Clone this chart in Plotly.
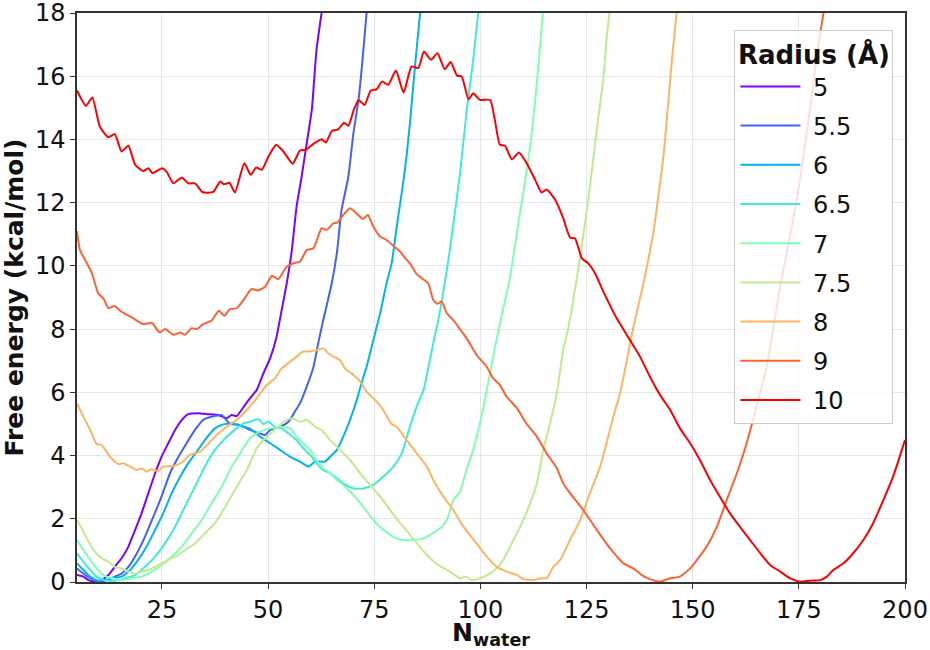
import plotly.graph_objects as go

radius_labels = ["5", "5.5", "6", "6.5", "7", "7.5", "8", "9", "10"]

x_r5 = [5.0,6.5,7.7,9.2,10.8,12.4,13.9,15.5,17.1,18.7,20.2,21.8,23.4,24.9,26.5,28.1,29.7,31.2,33.6,35.9,38.3,40.2,41.4,42.6,44.2,45.7,47.3,48.9,50.5,52.0,53.2,54.4,55.6,56.7,57.9,59.1,60.3,61.4,62.6]
y_r5 = [0.22,0.17,0.06,0.01,0.06,0.22,0.48,0.75,1.12,1.65,2.17,2.81,3.44,3.96,4.39,4.81,5.13,5.31,5.34,5.31,5.28,5.18,5.28,5.25,5.53,5.81,6.07,6.6,7.08,7.76,8.6,9.45,10.5,11.87,12.82,13.88,14.94,16.83,18.0]

x_r55 = [5.0,6.5,8.1,10.0,12.0,13.9,15.5,17.1,19.1,21.0,23.0,24.9,26.9,28.9,30.8,32.8,34.7,36.7,39.1,41.0,43.4,45.7,48.1,49.3,50.5,52.8,54.8,56.3,57.5,59.1,60.7,61.8,63.0,65.0,66.2,67.3,68.9,70.1,71.3,72.1,73.2]
y_r55 = [0.43,0.27,0.12,0.01,0.06,0.17,0.27,0.48,0.91,1.43,2.07,2.7,3.44,3.96,4.39,4.81,5.13,5.23,5.28,5.0,4.97,4.81,4.7,4.65,4.81,4.91,5.07,5.39,5.65,6.18,6.81,7.55,8.29,9.45,10.4,11.77,12.82,14.2,15.25,16.31,18.0]

x_r6 = [5.0,6.5,8.1,9.6,11.6,13.6,15.5,17.5,19.4,21.4,23.4,25.3,27.3,29.3,31.2,33.2,35.1,37.5,39.1,41.4,43.4,45.7,48.1,50.5,52.8,55.2,57.5,59.5,61.1,63.4,64.6,66.2,67.7,69.3,70.9,72.0,73.2,74.4,75.6,76.4,77.9,79.1,80.3,81.8,82.6,83.4,84.6,85.8]
y_r6 = [0.59,0.38,0.17,0.06,0.06,0.12,0.17,0.38,0.7,1.12,1.65,2.17,2.81,3.33,3.76,4.12,4.49,4.86,4.97,5.02,4.94,4.86,4.6,4.39,4.18,3.96,3.81,3.65,3.81,3.81,3.96,4.18,4.6,5.13,5.76,6.29,6.81,7.44,8.08,8.5,9.45,10.08,11.24,12.61,13.46,14.51,16.31,18.0]

x_r65 = [5.0,6.5,8.1,9.6,11.6,13.9,16.3,18.7,21.0,23.4,25.7,28.1,30.4,32.8,35.1,37.5,39.9,42.6,44.2,45.7,47.7,48.9,50.1,51.6,53.2,54.8,56.7,58.3,59.9,61.4,63.0,64.6,66.2,67.7,70.1,72.4,74.8,77.1,79.5,81.5,83.4,85.0,86.6,87.8,88.9,90.1,92.8,95.2,96.8,98.3,99.5]
y_r65 = [0.91,0.64,0.38,0.17,0.06,0.03,0.12,0.22,0.48,0.8,1.22,1.75,2.38,3.02,3.65,4.18,4.55,4.86,5.02,5.07,5.15,5.0,5.07,4.91,4.86,4.7,4.49,4.23,4.02,3.76,3.54,3.44,3.28,3.12,2.96,2.96,3.07,3.33,3.65,4.07,4.91,5.55,6.07,6.81,7.55,8.29,10.5,12.93,14.94,16.51,18.0]

x_r7 = [5.0,6.5,8.1,9.6,11.2,13.2,15.5,17.9,20.2,22.6,24.9,27.3,29.7,32.0,34.4,36.7,39.1,41.4,43.4,45.7,48.1,50.5,52.8,55.2,56.7,58.3,59.9,61.4,63.0,64.6,66.2,67.7,70.1,72.4,74.8,77.1,79.5,81.8,84.2,86.6,88.1,90.5,92.1,93.6,95.2,96.7,98.3,99.9,101.5,103.0,104.6,107.0,109.3,111.3,113.3,114.1,114.7]
y_r7 = [1.33,1.01,0.7,0.43,0.22,0.12,0.06,0.12,0.17,0.33,0.54,0.8,1.12,1.54,1.96,2.49,3.02,3.65,4.07,4.55,4.76,4.86,4.91,4.86,4.6,4.39,4.18,3.86,3.6,3.44,3.23,3.07,2.75,2.38,1.96,1.65,1.43,1.33,1.33,1.38,1.49,1.7,1.96,2.59,2.86,3.54,4.18,5.02,6.07,7.13,8.18,9.66,11.66,13.35,15.78,17.04,18.0]

x_r75 = [5.0,6.1,7.7,9.2,10.8,12.4,13.9,15.5,17.1,18.7,20.2,21.8,23.4,24.9,26.5,28.1,30.4,32.8,35.1,37.5,39.9,42.2,43.8,45.0,47.3,48.9,50.5,52.0,53.6,55.6,57.5,59.1,61.1,62.6,64.6,66.9,69.3,71.7,74.0,76.4,78.7,81.1,83.4,85.8,88.1,90.5,92.8,95.2,96.7,97.9,99.9,102.3,103.8,105.4,107.0,108.6,110.1,111.7,113.3,114.8,116.4,118.0,119.5,120.7,123.5,125.4,127.4,129.0,129.7,130.4]
y_r75 = [1.96,1.7,1.28,0.96,0.75,0.64,0.48,0.43,0.33,0.27,0.33,0.38,0.48,0.59,0.7,0.8,1.01,1.22,1.54,1.86,2.38,2.91,3.28,3.54,4.23,4.49,4.7,4.86,5.07,5.18,5.07,5.13,4.91,4.81,4.49,4.18,3.86,3.44,3.07,2.7,2.28,1.86,1.5,1.1,0.75,0.5,0.33,0.12,0.17,0.06,0.12,0.27,0.43,0.7,1.12,1.54,1.96,2.49,3.12,4.18,5.02,5.97,7.34,8.03,10.29,12.09,14.3,15.99,17.15,18.0]

x_r8 = [5.0,6.5,8.1,9.6,10.8,12.8,14.7,15.9,17.5,19.1,20.2,21.4,22.6,24.1,25.3,27.7,29.7,31.6,34.0,35.9,37.9,40.2,42.6,45.0,47.3,49.7,51.6,53.2,55.2,56.7,58.3,59.9,61.4,63.0,64.2,65.4,66.9,68.1,70.1,71.7,73.2,75.2,77.1,79.1,80.3,82.6,85.0,87.4,88.9,91.3,93.6,96.0,99.1,101.5,103.8,106.2,108.6,110.1,112.5,114.4,115.6,117.2,118.8,121.1,123.5,125.8,128.2,129.7,131.3,132.9,134.5,136.0,138.4,140.7,143.1,144.3,145.1,146.2]
y_r8 = [5.65,5.23,4.81,4.37,4.33,3.96,3.73,3.76,3.65,3.54,3.6,3.49,3.57,3.51,3.65,3.67,3.78,4.02,4.12,4.37,4.65,4.91,5.13,5.44,5.81,6.23,6.44,6.76,6.97,7.13,7.29,7.29,7.34,7.39,7.23,7.13,7.02,6.76,6.55,6.34,6.02,5.76,5.44,5.0,4.91,4.49,4.07,3.65,3.23,2.7,2.28,1.75,1.22,0.8,0.48,0.33,0.22,0.09,0.06,0.12,0.12,0.48,0.7,1.33,1.96,2.81,3.65,4.39,5.23,5.97,7.02,8.05,9.45,11.03,13.46,15.25,16.51,18.0]

x_r9 = [5.0,5.7,6.9,8.5,10.0,11.2,12.4,13.8,15.5,17.9,20.6,22.6,24.5,25.7,27.7,29.3,30.4,32.0,33.2,34.7,36.7,38.4,39.7,41.0,42.6,44.2,46.1,47.6,49.3,50.9,52.4,54.4,56.3,57.5,59.1,60.7,62.6,63.8,65.4,66.3,67.7,69.3,70.9,72.3,73.5,74.8,76.4,77.9,79.9,81.1,82.3,83.4,85.0,86.2,87.7,88.9,89.9,90.9,92.1,93.6,95.2,96.8,99.1,101.5,103.0,104.6,106.2,108.6,110.9,113.3,115.6,118.0,119.5,121.1,124.2,127.4,130.5,133.7,136.0,138.0,139.9,142.3,144.7,147.0,149.4,151.0,153.3,155.7,158.0,160.4,162.7,167.4,170.6,174.5,177.6,179.2,180.8]
y_r9 = [11.1,10.5,10.19,9.77,9.13,8.97,8.66,8.73,8.55,8.37,8.16,8.2,7.89,8.0,7.82,7.89,7.82,8.03,8.0,8.16,8.27,8.58,8.42,8.63,8.66,8.92,9.27,9.22,9.34,9.69,9.58,9.98,10.1,10.13,10.5,10.56,11.19,11.14,11.35,11.37,11.61,11.82,11.65,11.48,11.61,11.24,10.93,10.82,10.59,10.45,10.24,10.08,9.74,9.61,9.45,8.92,8.8,8.87,8.5,8.29,8.0,7.7,7.18,6.81,6.44,6.23,5.86,5.5,5.0,4.6,4.07,3.6,3.12,2.81,2.28,1.65,1.07,0.59,0.43,0.22,0.09,0.01,0.12,0.17,0.43,0.7,1.12,1.75,2.59,3.44,4.39,6.81,9.34,12.09,14.94,16.62,18.0]

x_r10 = [5.0,7.1,8.6,10.4,12.4,13.9,15.5,17.1,18.7,20.6,21.8,22.8,25.0,26.1,27.7,29.7,31.2,32.8,34.6,37.1,38.7,39.6,40.9,42.2,44.4,45.9,47.2,48.5,50.1,51.9,53.6,55.8,57.5,58.9,60.7,62.6,63.6,65.0,66.5,67.9,68.9,70.2,71.3,72.7,74.2,75.6,76.8,78.3,80.1,81.9,83.8,85.4,86.7,88.4,89.9,91.6,93.0,94.5,95.6,97.2,98.3,99.9,102.3,103.4,104.6,105.8,107.4,109.1,110.9,112.9,114.4,115.6,117.6,119.5,121.1,122.3,123.9,125.4,127.0,128.6,130.5,132.1,135.2,137.6,139.9,142.3,144.7,147.0,149.4,151.7,154.1,156.4,158.8,161.1,163.5,165.9,168.2,170.6,172.9,175.3,177.6,180.0,181.6,183.1,185.5,187.8,190.2,192.5,194.9,196.9,198.0,200.0]
y_r10 = [15.55,15.06,15.33,14.4,14.07,14.17,13.62,13.8,13.2,13.0,13.09,12.93,13.09,12.98,12.61,12.8,12.61,12.61,12.33,12.34,12.67,12.58,12.63,12.32,13.25,12.88,13.11,13.04,13.46,13.83,13.62,13.23,13.65,13.67,13.86,14.01,13.9,14.27,14.32,14.53,14.43,14.94,15.25,15.09,15.55,15.59,15.83,15.73,16.18,15.48,16.31,16.26,16.78,16.52,16.73,16.22,16.45,16.02,15.99,15.27,15.46,15.25,15.25,14.62,13.83,13.8,13.37,13.59,13.25,12.72,12.32,12.42,12.09,11.51,10.9,10.87,10.24,10.08,9.77,9.29,8.76,8.34,7.66,7.13,6.5,5.92,5.44,4.86,4.39,3.86,3.23,2.7,2.17,1.75,1.33,0.91,0.54,0.33,0.12,0.01,0.04,0.06,0.17,0.38,0.59,0.91,1.33,1.86,2.59,3.23,3.65,4.49]

series_x = [x_r5, x_r55, x_r6, x_r65, x_r7, x_r75, x_r8, x_r9, x_r10]
series_y = [y_r5, y_r55, y_r6, y_r65, y_r7, y_r75, y_r8, y_r9, y_r10]

# matplotlib 'rainbow' colormap sampled at 9 points
colors = ["#8000ff", "#4062fa", "#00b5eb", "#40ecd4", "#80ffb4",
          "#c0eb8d", "#ffb462", "#ff6232", "#ff0000"]

FONT = "DejaVu Sans"

fig = go.Figure()
for lab, xs, ys, c in zip(radius_labels, series_x, series_y, colors):
    fig.add_trace(go.Scatter(
        x=xs, y=ys, mode="lines", name="\u00a0" + lab,
        line=dict(color=c, width=2, shape="spline", smoothing=0.5),
        legendgroup=lab,
    ))

axis_common = dict(
    showline=True, linecolor="#333333", linewidth=1.5, mirror=True,
    ticks="outside", ticklen=5, tickwidth=1.2, tickcolor="#333333",
    showgrid=True, gridcolor="#e6e6e6", gridwidth=1,
    zeroline=False, automargin=False, ticklabeloverflow="allow",
    tickfont=dict(family=FONT, size=24, color="#111111"),
)

fig.update_layout(
    width=930, height=650,
    margin=dict(l=77, r=25, t=13, b=68),
    paper_bgcolor="white", plot_bgcolor="white",
    font=dict(family=FONT, color="#111111"),
    xaxis=dict(range=[5, 200], tick0=0, dtick=25,
               title=dict(text="<b>N<sub>water</sub></b>",
                          font=dict(family=FONT, size=25), standoff=4),
               **axis_common),
    yaxis=dict(range=[0, 18], tick0=0, dtick=2,
               title=dict(text="<b>Free energy (kcal/mol)</b>",
                          font=dict(family=FONT, size=25), standoff=4),
               **axis_common),
    legend=dict(
        x=0.986, y=0.971, xanchor="right", yanchor="top",
        bgcolor="rgba(255,255,255,0.8)", bordercolor="#cccccc", borderwidth=1,
        font=dict(family=FONT, size=24, color="#111111"),
        title=dict(text="<b>Radius (Å)</b>", side="top center",
                   font=dict(family=FONT, size=26)),
        tracegroupgap=5, itemwidth=60,
    ),
    showlegend=True,
)

# remove the default 8px page margin so the 930x650 figure fills the window
fig.write_html("out.html", config={"displayModeBar": False},
               post_script="document.body.style.margin='0';")
